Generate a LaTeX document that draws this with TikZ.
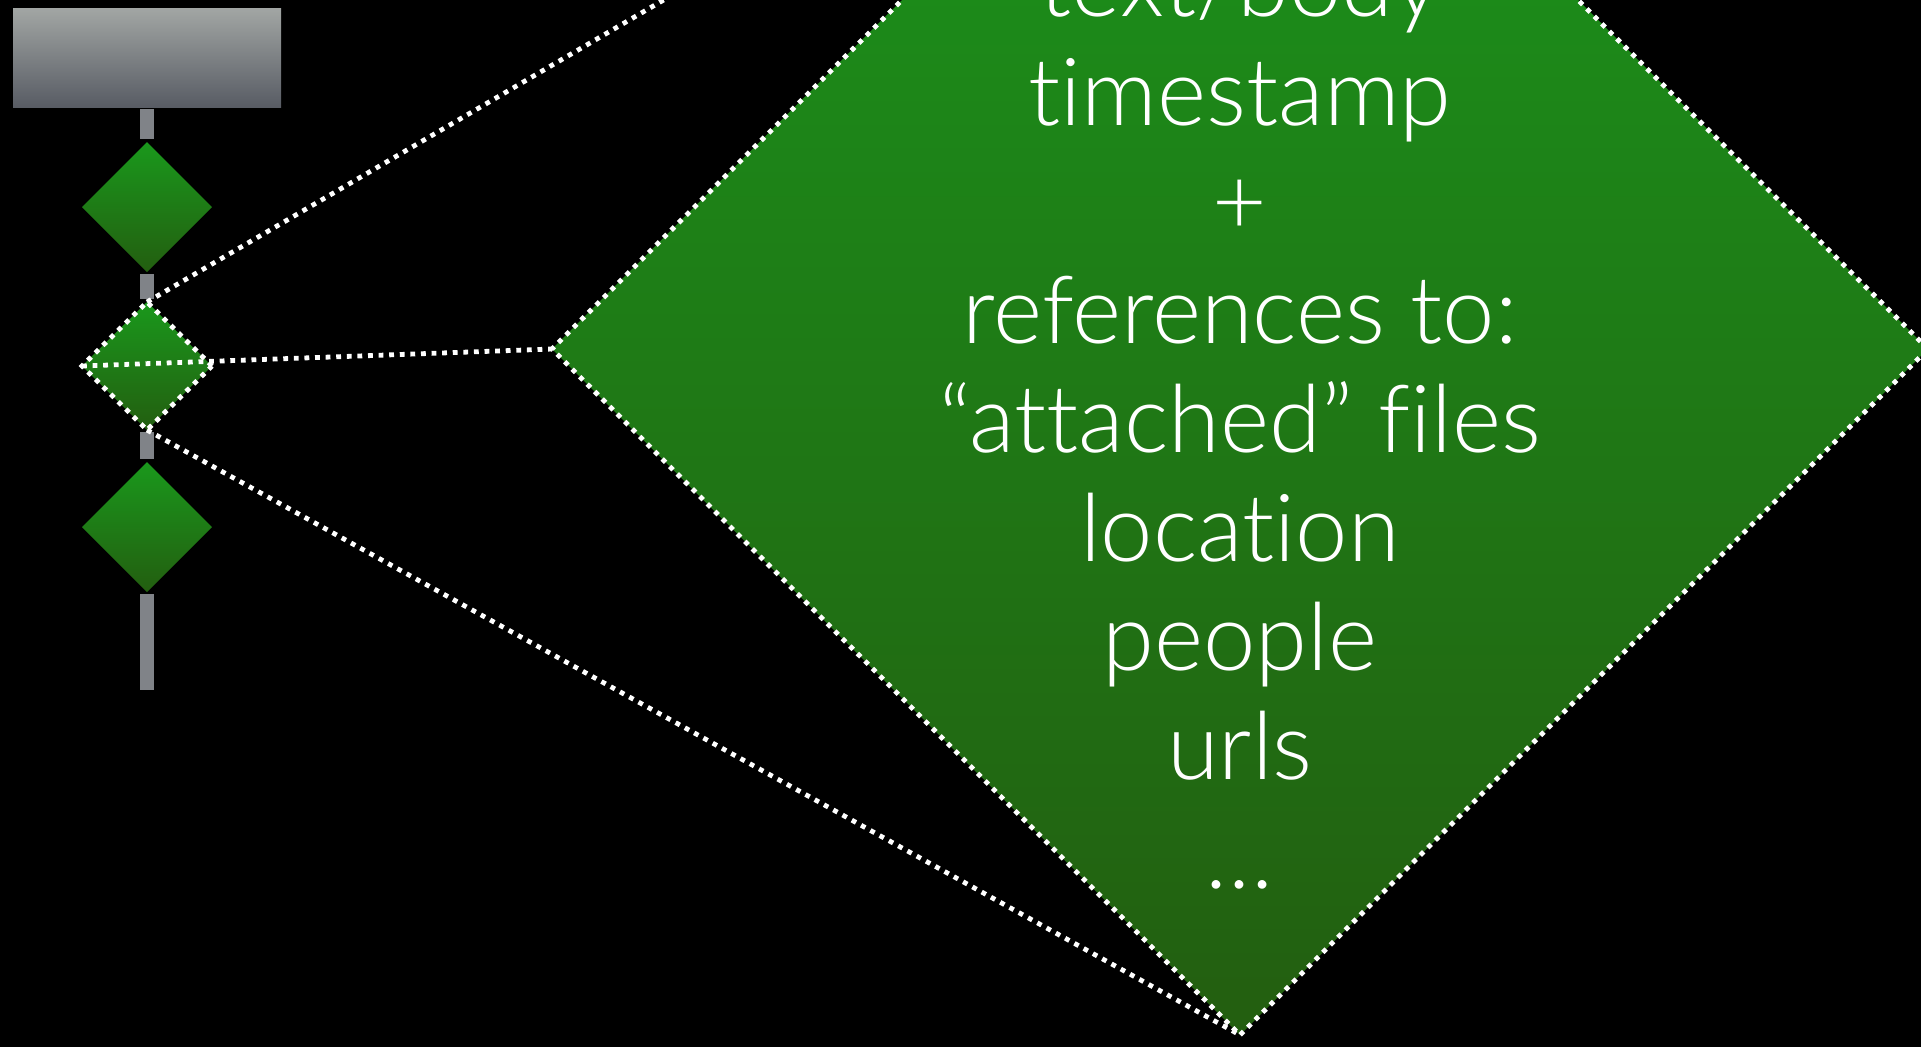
\documentclass[tikz,border=0pt]{standalone}
\usepackage{fontspec}
\IfFontExistsTF{Lato Light}{\setmainfont{Lato Light}[Ligatures=NoCommon]}{\setmainfont{TeX Gyre Heros}}
\usetikzlibrary{shapes.geometric}
\definecolor{gtop}{RGB}{26,152,28}
\definecolor{gbot}{RGB}{35,94,16}
\definecolor{htop}{RGB}{162,166,164}
\definecolor{hbot}{RGB}{88,92,100}
\definecolor{stubgray}{RGB}{128,131,136}
\begin{document}
\begin{tikzpicture}[x=1pt,y=-1pt,
  gem/.style={diamond, shape aspect=1, inner sep=0pt, outer sep=0pt, top color=gtop, bottom color=gbot},
  dotted border/.style={draw=white, line width=4.8pt, dash pattern=on 4.8pt off 5.8pt},
  dotline/.style={dotted border},
  stub/.style={draw=stubgray, line width=14pt, shorten <=2pt, shorten >=3pt},
  lbl/.style={anchor=base, text=white, inner sep=0pt, font=\fontsize{94}{109}\selectfont}]
\useasboundingbox (0,0) rectangle (1921,1047);
\fill[black] (0,0) rectangle (1921,1047);
\clip (0,0) rectangle (1921,1047);
% header block
\node[rectangle, inner sep=0pt, outer sep=0pt, minimum width=268pt, minimum height=99pt,
  top color=htop, bottom color=hbot] (hdr) at (147,57.5) {};
% small diamonds
\node[gem, minimum width=130pt, minimum height=130pt] (d1) at (147,207) {};
\node[gem, minimum width=130pt, minimum height=128pt, dotted border] (d2) at (147,366) {};
\node[gem, minimum width=130pt, minimum height=130pt] (d3) at (147,527) {};
\coordinate (tail) at (147,690);
% stubs
\draw[stub] (hdr.south) -- (d1.north);
\draw[stub] (d1.south) -- (d2.north);
\draw[stub] (d2.south) -- (d3.north);
\draw[stub, shorten >=0pt] (d3.south) -- (tail);
% big diamond
\node[gem, minimum width=1376pt, minimum height=1372pt, dotted border] (big) at (1240,349) {};
% zoom lines
\draw[dotline] (d2.north) -- (big.north);
\draw[dotline] (d2.west) -- (big.west);
\draw[dotline] (d2.south) -- (big.south);
% text
\node[lbl] (t1) at (1240,16) {text/body};
\node[lbl] (t2) at (1240,125) {timestamp};
\node[lbl] (t3) at (1240,234) {+};
\node[lbl] (t4) at (1240,343) {references to:};
\node[lbl] (t5) at (1240,452) {“attached” files};
\node[lbl] (t6) at (1240,561) {location};
\node[lbl] (t7) at (1240,670) {people};
\node[lbl] (t8) at (1240,779) {urls};
\node[lbl] (t9) at (1240,888) {…};
\end{tikzpicture}
\end{document}
